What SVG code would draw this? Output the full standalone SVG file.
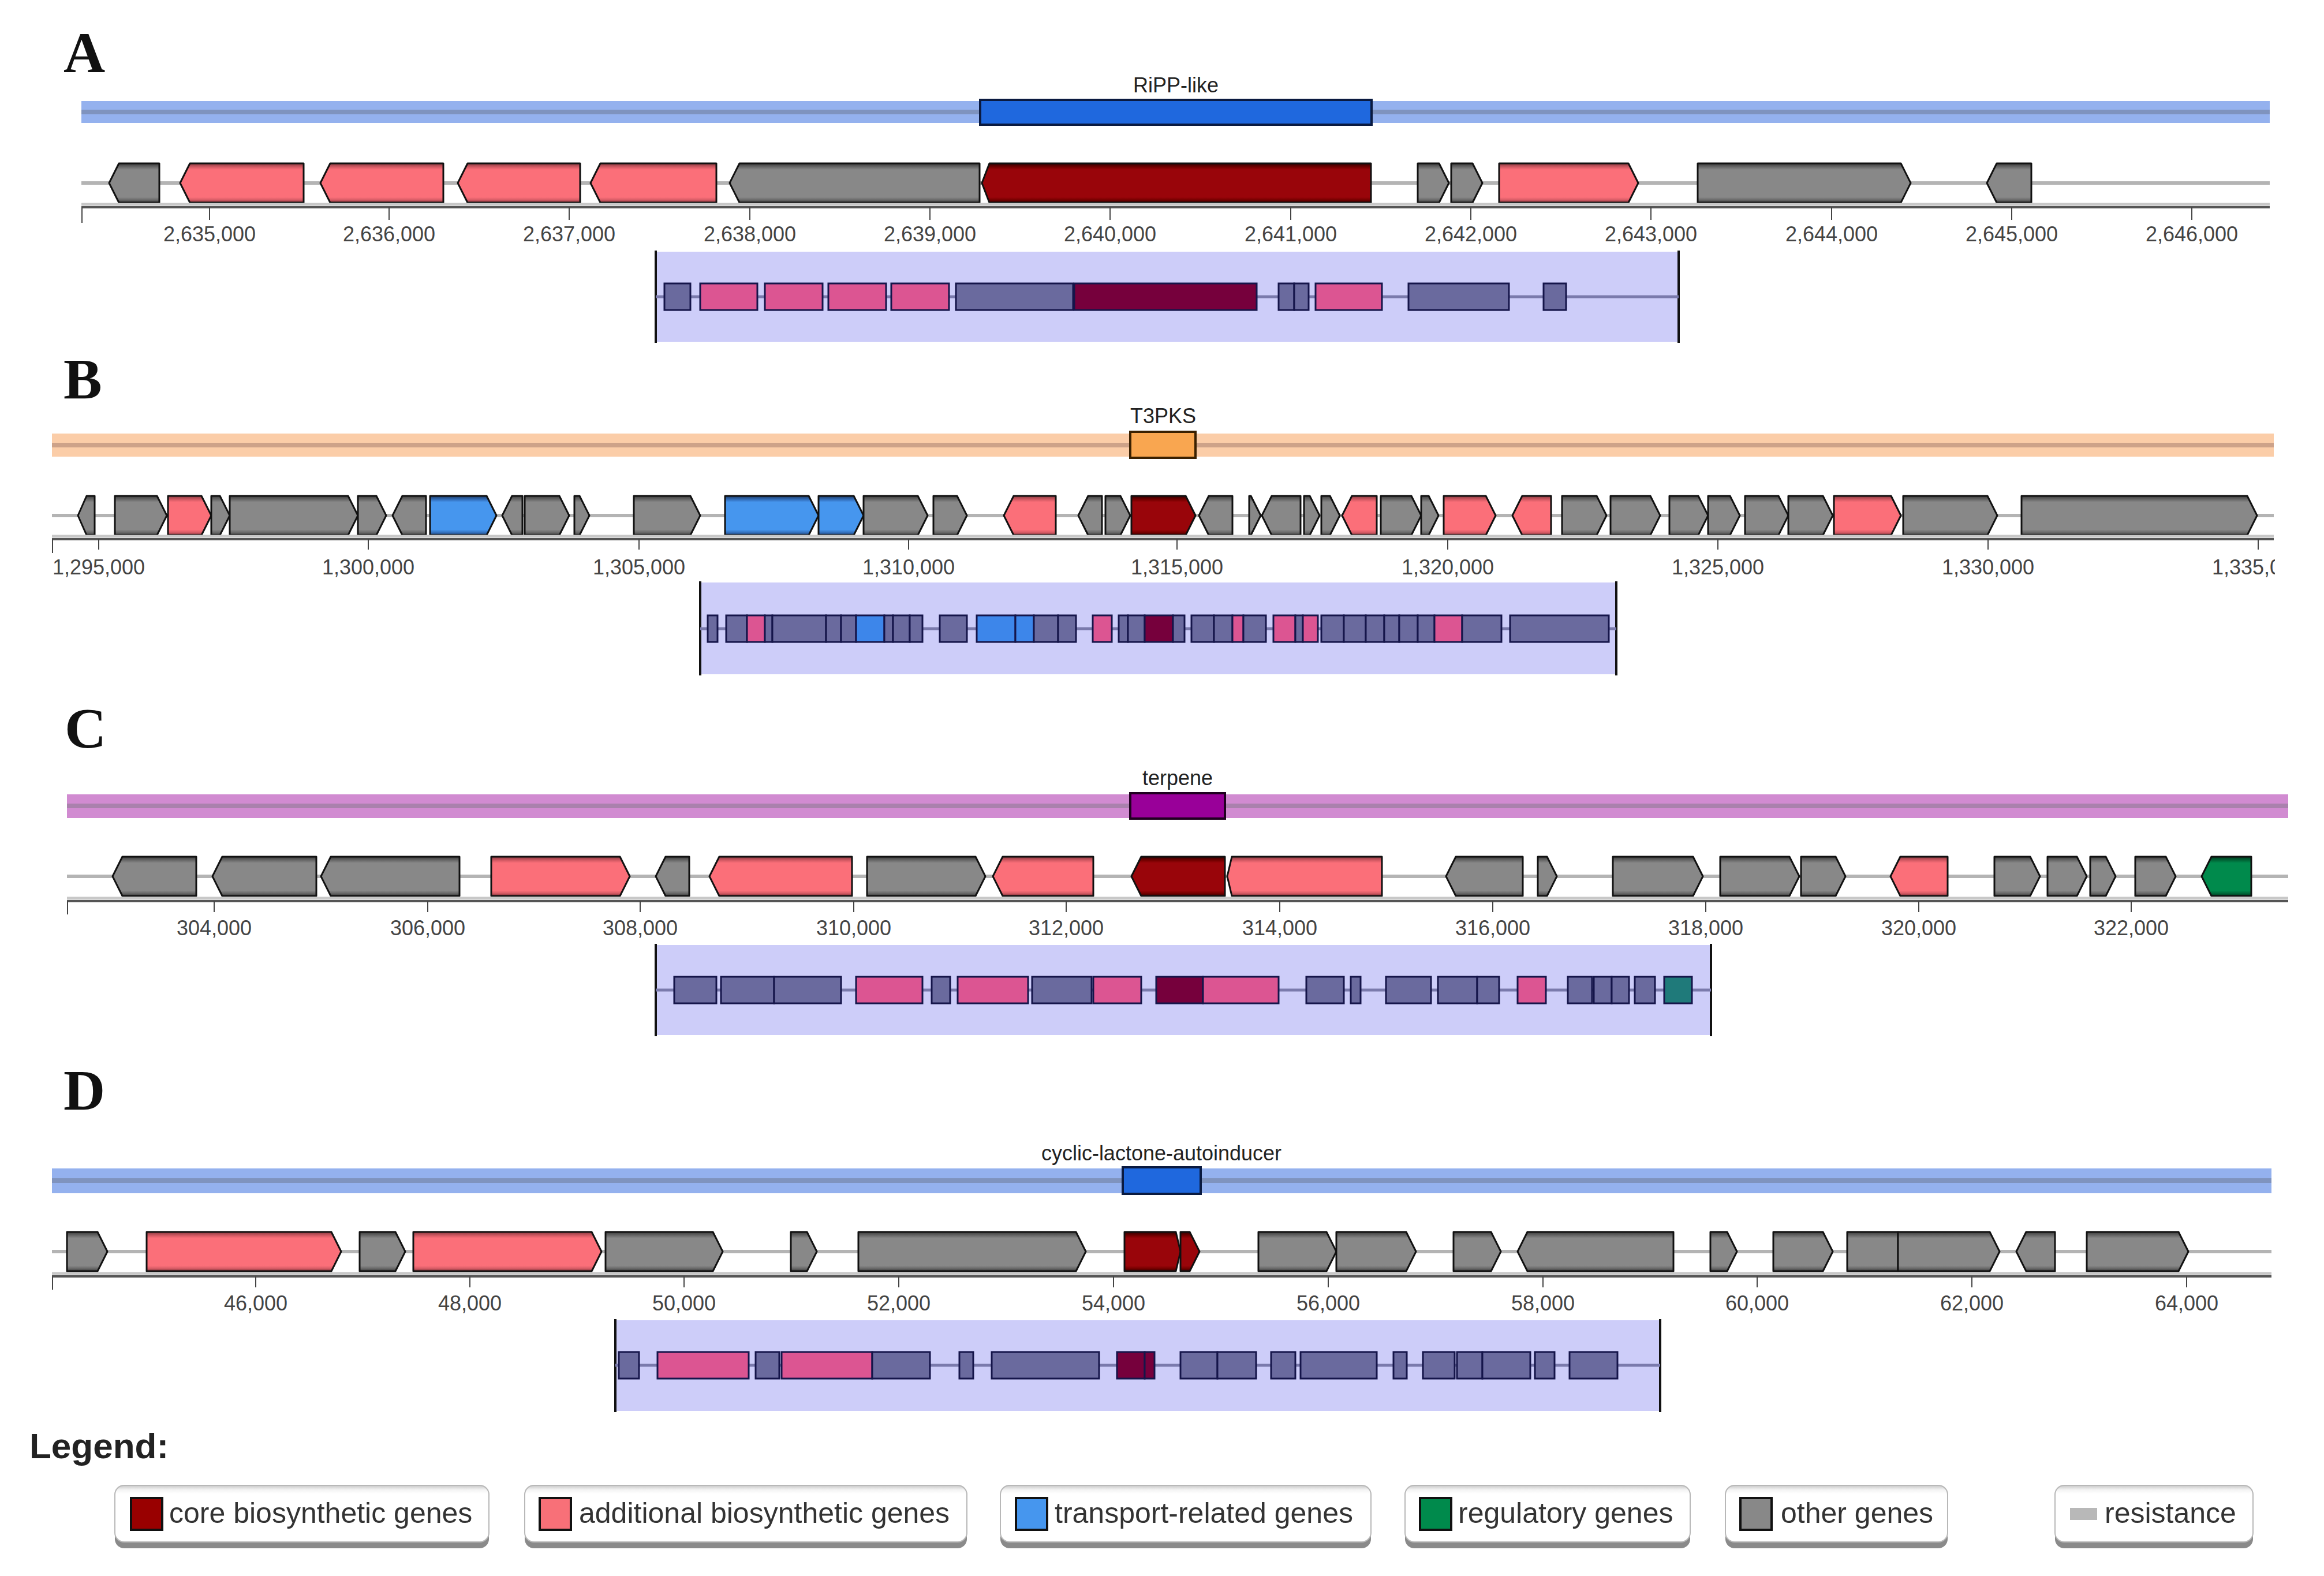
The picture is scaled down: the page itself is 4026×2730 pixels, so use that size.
<svg xmlns="http://www.w3.org/2000/svg" width="4026" height="2730" viewBox="0 0 4026 2730">
<defs>
<linearGradient id="gGray" x1="0" y1="0" x2="0" y2="1"><stop offset="0" stop-color="#3c3c3c"/><stop offset="0.1" stop-color="#6c6c6c"/><stop offset="0.16" stop-color="#888"/><stop offset="0.86" stop-color="#888"/><stop offset="0.93" stop-color="#6a6a6a"/><stop offset="1" stop-color="#3a3a3a"/></linearGradient>
<linearGradient id="gPink" x1="0" y1="0" x2="0" y2="1"><stop offset="0" stop-color="#8a3a40"/><stop offset="0.1" stop-color="#d85c66"/><stop offset="0.16" stop-color="#fb6f79"/><stop offset="0.86" stop-color="#fb6f79"/><stop offset="0.93" stop-color="#d85c66"/><stop offset="1" stop-color="#7a3036"/></linearGradient>
<linearGradient id="gCore" x1="0" y1="0" x2="0" y2="1"><stop offset="0" stop-color="#300"/><stop offset="0.1" stop-color="#700"/><stop offset="0.16" stop-color="#99050a"/><stop offset="0.86" stop-color="#99050a"/><stop offset="0.93" stop-color="#700"/><stop offset="1" stop-color="#300"/></linearGradient>
<linearGradient id="gBlue" x1="0" y1="0" x2="0" y2="1"><stop offset="0" stop-color="#1a3a66"/><stop offset="0.1" stop-color="#3572c0"/><stop offset="0.16" stop-color="#4696ee"/><stop offset="0.86" stop-color="#4696ee"/><stop offset="0.93" stop-color="#3572c0"/><stop offset="1" stop-color="#1a3a66"/></linearGradient>
<linearGradient id="gGreen" x1="0" y1="0" x2="0" y2="1"><stop offset="0" stop-color="#003a1e"/><stop offset="0.1" stop-color="#006a3a"/><stop offset="0.16" stop-color="#008a4c"/><stop offset="0.86" stop-color="#008a4c"/><stop offset="0.93" stop-color="#006a3a"/><stop offset="1" stop-color="#003a1e"/></linearGradient>
<linearGradient id="btn" x1="0" y1="0" x2="0" y2="1"><stop offset="0" stop-color="#c8c8c8"/><stop offset="0.08" stop-color="#f4f4f4"/><stop offset="0.15" stop-color="#fff"/><stop offset="1" stop-color="#fff"/></linearGradient>
<clipPath id="clipB"><rect x="88" y="950" width="3853" height="60"/></clipPath>
<style>
.gg{fill:url(#gGray);stroke:#111;stroke-width:3;stroke-linejoin:round}
.gp{fill:url(#gPink);stroke:#111;stroke-width:3;stroke-linejoin:round}
.gr{fill:url(#gCore);stroke:#111;stroke-width:3;stroke-linejoin:round}
.gb{fill:url(#gBlue);stroke:#111;stroke-width:3;stroke-linejoin:round}
.gn{fill:url(#gGreen);stroke:#111;stroke-width:3;stroke-linejoin:round}
.mg,.mp,.mr,.mb,.mt{stroke:#15154a;stroke-width:3;height:46px}
.mg{fill:#6a6a9e}.mp{fill:#dc5592}.mr{fill:#76003c}.mb{fill:#3d86ea}.mt{fill:#1f7a7a}
.trk{stroke:#b4b4b4;stroke-width:6}
.axb{stroke:#c8c8c8;stroke-width:5}
.ax{stroke:#555;stroke-width:4}
.tk{stroke:#444;stroke-width:2}
.tl{font-family:"Liberation Sans",Arial,sans-serif;font-size:36px;fill:#444;text-anchor:middle}
.rl{font-family:"Liberation Sans",Arial,sans-serif;font-size:36px;fill:#222;text-anchor:middle}
.pl{font-family:"Liberation Serif","Times New Roman",serif;font-weight:bold;font-size:100px;fill:#111}
.lav{fill:#cdcdf9}
.lavl{stroke:#111;stroke-width:4}
.mtrk{stroke:#7a7aac;stroke-width:5}
.stripe{opacity:0.55}
.lgb{fill:url(#btn);stroke:#b8b8b8;stroke-width:2}
.lgs{fill:#8a8a8a}
.lgt{font-family:"Liberation Sans",Arial,sans-serif;font-size:50px;fill:#333}
.sw{stroke:#111;stroke-width:4}
</style>
</defs>
<rect width="4026" height="2730" fill="#fff"/>

<!-- ================= PANEL A ================= -->
<g id="panelA">
<text class="pl" x="110" y="125">A</text>
<g id="regionA">
<rect x="141" y="175" width="3791" height="38" fill="#94b1ee"/>
<rect class="stripe" x="141" y="190" width="3791" height="8" fill="#6d7a98"/>
<rect x="1698" y="173" width="678" height="43" fill="#1f68de" stroke="#0a1a40" stroke-width="4"/>
<text class="rl" x="2037" y="160">RiPP-like</text>
</g>
<line class="trk" x1="141" y1="317" x2="3932" y2="317"/>
<g id="genesA" transform="translate(0,283)">
<polygon class="gg" points="189,34 206,0 276,0 276,68 206,68"/>
<polygon class="gp" points="312,34 329,0 526,0 526,68 329,68"/>
<polygon class="gp" points="555,34 572,0 768,0 768,68 572,68"/>
<polygon class="gp" points="793,34 810,0 1005,0 1005,68 810,68"/>
<polygon class="gp" points="1023,34 1040,0 1241,0 1241,68 1040,68"/>
<polygon class="gg" points="1264,34 1281,0 1697,0 1697,68 1281,68"/>
<polygon class="gr" points="1701,34 1714,0 2375,0 2375,68 1714,68"/>
<polygon class="gg" points="2456,0 2493,0 2510,34 2493,68 2456,68"/>
<polygon class="gg" points="2514,0 2551,0 2568,34 2551,68 2514,68"/>
<polygon class="gp" points="2597,0 2821,0 2838,34 2821,68 2597,68"/>
<polygon class="gg" points="2941,0 3293,0 3310,34 3293,68 2941,68"/>
<polygon class="gg" points="3442,34 3459,0 3519,0 3519,68 3459,68"/>
</g>
<g id="axisA">
<line class="axb" x1="141" y1="354" x2="3932" y2="354"/>
<line class="ax" x1="141" y1="359" x2="3932" y2="359"/>
<line class="tk" x1="142" y1="359" x2="142" y2="386"/>
<g class="tk">
<line x1="363" y1="359" x2="363" y2="381"/><line x1="674" y1="359" x2="674" y2="381"/><line x1="986" y1="359" x2="986" y2="381"/><line x1="1299" y1="359" x2="1299" y2="381"/><line x1="1611" y1="359" x2="1611" y2="381"/><line x1="1923" y1="359" x2="1923" y2="381"/><line x1="2236" y1="359" x2="2236" y2="381"/><line x1="2548" y1="359" x2="2548" y2="381"/><line x1="2860" y1="359" x2="2860" y2="381"/><line x1="3173" y1="359" x2="3173" y2="381"/><line x1="3485" y1="359" x2="3485" y2="381"/><line x1="3797" y1="359" x2="3797" y2="381"/>
</g>
<text class="tl" x="363" y="418">2,635,000</text><text class="tl" x="674" y="418">2,636,000</text><text class="tl" x="986" y="418">2,637,000</text><text class="tl" x="1299" y="418">2,638,000</text><text class="tl" x="1611" y="418">2,639,000</text><text class="tl" x="1923" y="418">2,640,000</text><text class="tl" x="2236" y="418">2,641,000</text><text class="tl" x="2548" y="418">2,642,000</text><text class="tl" x="2860" y="418">2,643,000</text><text class="tl" x="3173" y="418">2,644,000</text><text class="tl" x="3485" y="418">2,645,000</text><text class="tl" x="3797" y="418">2,646,000</text>
</g>
<g id="miniA">
<rect class="lav" x="1136" y="436" width="1772" height="156"/>
<line class="lavl" x1="1136" y1="434" x2="1136" y2="594"/>
<line class="lavl" x1="2908" y1="434" x2="2908" y2="594"/>
<line class="mtrk" x1="1136" y1="514" x2="2908" y2="514"/>
<g transform="translate(0,491)">
<rect class="mg" x="1151" y="0" width="45" height="46"/><rect class="mp" x="1213" y="0" width="99" height="46"/><rect class="mp" x="1325" y="0" width="100" height="46"/><rect class="mp" x="1435" y="0" width="100" height="46"/><rect class="mp" x="1544" y="0" width="100" height="46"/><rect class="mg" x="1656" y="0" width="203" height="46"/><rect class="mr" x="1861" y="0" width="316" height="46"/><rect class="mg" x="2215" y="0" width="27" height="46"/><rect class="mg" x="2242" y="0" width="25" height="46"/><rect class="mp" x="2279" y="0" width="115" height="46"/><rect class="mg" x="2440" y="0" width="174" height="46"/><rect class="mg" x="2674" y="0" width="39" height="46"/>
</g>
</g>
</g>

<!-- ================= PANEL B ================= -->
<g id="panelB">
<text class="pl" x="110" y="690">B</text>
<g id="regionB">
<rect x="90" y="751" width="3849" height="40" fill="#fbcda8"/>
<rect class="stripe" x="90" y="767" width="3849" height="8" fill="#a88070"/>
<rect x="1958" y="748" width="113" height="45" fill="#f9a650" stroke="#3a2000" stroke-width="4"/>
<text class="rl" x="2015" y="733">T3PKS</text>
</g>
<line class="trk" x1="90" y1="893" x2="3939" y2="893"/>
<g id="genesB" transform="translate(0,859)">
<polygon class="gg" points="135,34 150,0 164,0 164,68 150,68"/>
<polygon class="gg" points="199,0 272,0 289,34 272,68 199,68"/>
<polygon class="gp" points="291,0 349,0 366,34 349,68 291,68"/>
<polygon class="gg" points="366,0 381,0 398,34 381,68 366,68"/>
<polygon class="gg" points="398,0 603,0 620,34 603,68 398,68"/>
<polygon class="gg" points="620,0 652,0 669,34 652,68 620,68"/>
<polygon class="gg" points="680,34 697,0 738,0 738,68 697,68"/>
<polygon class="gb" points="745,0 843,0 860,34 843,68 745,68"/>
<polygon class="gg" points="870,34 887,0 905,0 905,68 887,68"/>
<polygon class="gg" points="909,0 969,0 986,34 969,68 909,68"/>
<polygon class="gg" points="995,0 1004,0 1021,34 1004,68 995,68"/>
<polygon class="gg" points="1098,0 1196,0 1213,34 1196,68 1098,68"/>
<polygon class="gb" points="1256,0 1401,0 1418,34 1401,68 1256,68"/>
<polygon class="gb" points="1418,0 1479,0 1496,34 1479,68 1418,68"/>
<polygon class="gg" points="1496,0 1590,0 1607,34 1590,68 1496,68"/>
<polygon class="gg" points="1617,0 1658,0 1675,34 1658,68 1617,68"/>
<polygon class="gp" points="1739,34 1756,0 1829,0 1829,68 1756,68"/>
<polygon class="gg" points="1868,34 1885,0 1909,0 1909,68 1885,68"/>
<polygon class="gg" points="1915,0 1941,0 1958,34 1941,68 1915,68"/>
<polygon class="gr" points="1960,0 2054,0 2071,34 2054,68 1960,68"/>
<polygon class="gg" points="2077,34 2094,0 2135,0 2135,68 2094,68"/>
<polygon class="gg" points="2164,0 2167,0 2184,34 2167,68 2164,68"/>
<polygon class="gg" points="2186,34 2203,0 2253,0 2253,68 2203,68"/>
<polygon class="gg" points="2259,0 2269,0 2286,34 2269,68 2259,68"/>
<polygon class="gg" points="2289,0 2304,0 2321,34 2304,68 2289,68"/>
<polygon class="gp" points="2325,34 2342,0 2385,0 2385,68 2342,68"/>
<polygon class="gg" points="2392,0 2445,0 2462,34 2445,68 2392,68"/>
<polygon class="gg" points="2462,0 2475,0 2492,34 2475,68 2462,68"/>
<polygon class="gp" points="2501,0 2574,0 2591,34 2574,68 2501,68"/>
<polygon class="gp" points="2620,34 2637,0 2687,0 2687,68 2637,68"/>
<polygon class="gg" points="2706,0 2766,0 2783,34 2766,68 2706,68"/>
<polygon class="gg" points="2790,0 2859,0 2876,34 2859,68 2790,68"/>
<polygon class="gg" points="2892,0 2942,0 2959,34 2942,68 2892,68"/>
<polygon class="gg" points="2959,0 2997,0 3014,34 2997,68 2959,68"/>
<polygon class="gg" points="3023,0 3081,0 3098,34 3081,68 3023,68"/>
<polygon class="gg" points="3098,0 3158,0 3175,34 3158,68 3098,68"/>
<polygon class="gp" points="3177,0 3276,0 3293,34 3276,68 3177,68"/>
<polygon class="gg" points="3297,0 3443,0 3460,34 3443,68 3297,68"/>
<polygon class="gg" points="3502,0 3893,0 3910,34 3893,68 3502,68"/>
</g>
<g id="axisB">
<line class="axb" x1="90" y1="929" x2="3939" y2="929"/>
<line class="ax" x1="90" y1="934" x2="3939" y2="934"/>
<line class="tk" x1="91" y1="934" x2="91" y2="958"/>
<g class="tk">
<line x1="171" y1="934" x2="171" y2="952"/><line x1="638" y1="934" x2="638" y2="952"/><line x1="1107" y1="934" x2="1107" y2="952"/><line x1="1574" y1="934" x2="1574" y2="952"/><line x1="2039" y1="934" x2="2039" y2="952"/><line x1="2508" y1="934" x2="2508" y2="952"/><line x1="2976" y1="934" x2="2976" y2="952"/><line x1="3444" y1="934" x2="3444" y2="952"/><line x1="3912" y1="934" x2="3912" y2="952"/>
</g>
<g clip-path="url(#clipB)">
<text class="tl" x="171" y="995">1,295,000</text><text class="tl" x="638" y="995">1,300,000</text><text class="tl" x="1107" y="995">1,305,000</text><text class="tl" x="1574" y="995">1,310,000</text><text class="tl" x="2039" y="995">1,315,000</text><text class="tl" x="2508" y="995">1,320,000</text><text class="tl" x="2976" y="995">1,325,000</text><text class="tl" x="3444" y="995">1,330,000</text><text class="tl" x="3912" y="995">1,335,000</text>
</g>
</g>
<g id="miniB">
<rect class="lav" x="1213" y="1009" width="1587" height="159"/>
<line class="lavl" x1="1213" y1="1007" x2="1213" y2="1170"/>
<line class="lavl" x1="2800" y1="1007" x2="2800" y2="1170"/>
<line class="mtrk" x1="1213" y1="1089" x2="2800" y2="1089"/>
<g transform="translate(0,1066)">
<rect class="mg" x="1226" y="0" width="17" height="46"/><rect class="mg" x="1258" y="0" width="36" height="46"/><rect class="mp" x="1294" y="0" width="31" height="46"/><rect class="mg" x="1325" y="0" width="13" height="46"/><rect class="mg" x="1338" y="0" width="93" height="46"/><rect class="mg" x="1431" y="0" width="26" height="46"/><rect class="mg" x="1457" y="0" width="26" height="46"/><rect class="mb" x="1483" y="0" width="49" height="46"/><rect class="mg" x="1532" y="0" width="15" height="46"/><rect class="mg" x="1547" y="0" width="29" height="46"/><rect class="mg" x="1576" y="0" width="22" height="46"/><rect class="mg" x="1628" y="0" width="47" height="46"/><rect class="mb" x="1692" y="0" width="67" height="46"/><rect class="mb" x="1759" y="0" width="32" height="46"/><rect class="mg" x="1791" y="0" width="42" height="46"/><rect class="mg" x="1833" y="0" width="31" height="46"/><rect class="mp" x="1893" y="0" width="33" height="46"/><rect class="mg" x="1938" y="0" width="16" height="46"/><rect class="mg" x="1954" y="0" width="29" height="46"/><rect class="mr" x="1983" y="0" width="49" height="46"/><rect class="mg" x="2032" y="0" width="20" height="46"/><rect class="mg" x="2064" y="0" width="39" height="46"/><rect class="mg" x="2103" y="0" width="32" height="46"/><rect class="mp" x="2135" y="0" width="19" height="46"/><rect class="mg" x="2154" y="0" width="39" height="46"/><rect class="mp" x="2206" y="0" width="38" height="46"/><rect class="mg" x="2244" y="0" width="13" height="46"/><rect class="mp" x="2257" y="0" width="26" height="46"/><rect class="mg" x="2289" y="0" width="39" height="46"/><rect class="mg" x="2328" y="0" width="38" height="46"/><rect class="mg" x="2366" y="0" width="32" height="46"/><rect class="mg" x="2398" y="0" width="26" height="46"/><rect class="mg" x="2424" y="0" width="32" height="46"/><rect class="mg" x="2456" y="0" width="29" height="46"/><rect class="mp" x="2485" y="0" width="48" height="46"/><rect class="mg" x="2533" y="0" width="68" height="46"/><rect class="mg" x="2616" y="0" width="171" height="46"/>
</g>
</g>
</g>

<!-- ================= PANEL C ================= -->
<g id="panelC">
<text class="pl" x="112" y="1295">C</text>
<g id="regionC">
<rect x="116" y="1376" width="3848" height="41" fill="#d18bd1"/>
<rect class="stripe" x="116" y="1392" width="3848" height="8" fill="#8a7a90"/>
<rect x="1958" y="1374" width="164" height="44" fill="#990099" stroke="#200020" stroke-width="4"/>
<text class="rl" x="2040" y="1360">terpene</text>
</g>
<line class="trk" x1="116" y1="1518" x2="3964" y2="1518"/>
<g id="genesC" transform="translate(0,1484)">
<polygon class="gg" points="195,34 212,0 340,0 340,68 212,68"/>
<polygon class="gg" points="368,34 385,0 548,0 548,68 385,68"/>
<polygon class="gg" points="556,34 573,0 796,0 796,68 573,68"/>
<polygon class="gp" points="851,0 1074,0 1091,34 1074,68 851,68"/>
<polygon class="gg" points="1136,34 1153,0 1194,0 1194,68 1153,68"/>
<polygon class="gp" points="1229,34 1246,0 1476,0 1476,68 1246,68"/>
<polygon class="gg" points="1502,0 1690,0 1707,34 1690,68 1502,68"/>
<polygon class="gp" points="1720,34 1737,0 1894,0 1894,68 1737,68"/>
<polygon class="gr" points="1960,34 1977,0 2122,0 2122,68 1977,68"/>
<polygon class="gp" points="2126,34 2134,0 2394,0 2394,68 2134,68"/>
<polygon class="gg" points="2505,34 2522,0 2638,0 2638,68 2522,68"/>
<polygon class="gg" points="2664,0 2680,0 2697,34 2680,68 2664,68"/>
<polygon class="gg" points="2794,0 2933,0 2950,34 2933,68 2794,68"/>
<polygon class="gg" points="2980,0 3100,0 3117,34 3100,68 2980,68"/>
<polygon class="gg" points="3120,0 3180,0 3197,34 3180,68 3120,68"/>
<polygon class="gp" points="3275,34 3292,0 3374,0 3374,68 3292,68"/>
<polygon class="gg" points="3455,0 3517,0 3534,34 3517,68 3455,68"/>
<polygon class="gg" points="3547,0 3598,0 3615,34 3598,68 3547,68"/>
<polygon class="gg" points="3621,0 3648,0 3665,34 3648,68 3621,68"/>
<polygon class="gg" points="3699,0 3752,0 3769,34 3752,68 3699,68"/>
<polygon class="gn" points="3814,34 3831,0 3900,0 3900,68 3831,68"/>
</g>
<g id="axisC">
<line class="axb" x1="116" y1="1556" x2="3964" y2="1556"/>
<line class="ax" x1="116" y1="1561" x2="3964" y2="1561"/>
<line class="tk" x1="117" y1="1561" x2="117" y2="1584"/>
<g class="tk">
<line x1="371" y1="1561" x2="371" y2="1580"/><line x1="741" y1="1561" x2="741" y2="1580"/><line x1="1109" y1="1561" x2="1109" y2="1580"/><line x1="1479" y1="1561" x2="1479" y2="1580"/><line x1="1847" y1="1561" x2="1847" y2="1580"/><line x1="2217" y1="1561" x2="2217" y2="1580"/><line x1="2586" y1="1561" x2="2586" y2="1580"/><line x1="2955" y1="1561" x2="2955" y2="1580"/><line x1="3324" y1="1561" x2="3324" y2="1580"/><line x1="3692" y1="1561" x2="3692" y2="1580"/>
</g>
<text class="tl" x="371" y="1620">304,000</text><text class="tl" x="741" y="1620">306,000</text><text class="tl" x="1109" y="1620">308,000</text><text class="tl" x="1479" y="1620">310,000</text><text class="tl" x="1847" y="1620">312,000</text><text class="tl" x="2217" y="1620">314,000</text><text class="tl" x="2586" y="1620">316,000</text><text class="tl" x="2955" y="1620">318,000</text><text class="tl" x="3324" y="1620">320,000</text><text class="tl" x="3692" y="1620">322,000</text>
</g>
<g id="miniC">
<rect class="lav" x="1136" y="1637" width="1828" height="156"/>
<line class="lavl" x1="1136" y1="1635" x2="1136" y2="1795"/>
<line class="lavl" x1="2964" y1="1635" x2="2964" y2="1795"/>
<line class="mtrk" x1="1136" y1="1715" x2="2964" y2="1715"/>
<g transform="translate(0,1692)">
<rect class="mg" x="1168" y="0" width="73" height="46"/><rect class="mg" x="1249" y="0" width="92" height="46"/><rect class="mg" x="1341" y="0" width="116" height="46"/><rect class="mp" x="1483" y="0" width="115" height="46"/><rect class="mg" x="1614" y="0" width="32" height="46"/><rect class="mp" x="1659" y="0" width="122" height="46"/><rect class="mg" x="1788" y="0" width="103" height="46"/><rect class="mp" x="1894" y="0" width="83" height="46"/><rect class="mr" x="2003" y="0" width="81" height="46"/><rect class="mp" x="2084" y="0" width="131" height="46"/><rect class="mg" x="2263" y="0" width="65" height="46"/><rect class="mg" x="2340" y="0" width="17" height="46"/><rect class="mg" x="2401" y="0" width="78" height="46"/><rect class="mg" x="2491" y="0" width="68" height="46"/><rect class="mg" x="2559" y="0" width="38" height="46"/><rect class="mp" x="2629" y="0" width="49" height="46"/><rect class="mg" x="2716" y="0" width="42" height="46"/><rect class="mg" x="2761" y="0" width="31" height="46"/><rect class="mg" x="2792" y="0" width="30" height="46"/><rect class="mg" x="2832" y="0" width="35" height="46"/><rect class="mt" x="2883" y="0" width="48" height="46"/>
</g>
</g>
</g>

<!-- ================= PANEL D ================= -->
<g id="panelD">
<text class="pl" x="110" y="1922">D</text>
<g id="regionD">
<rect x="90" y="2024" width="3845" height="43" fill="#94b1ee"/>
<rect class="stripe" x="90" y="2041" width="3845" height="8" fill="#6d7a98"/>
<rect x="1945" y="2022" width="135" height="46" fill="#1f68de" stroke="#0a1a40" stroke-width="4"/>
<text class="rl" x="2012" y="2010">cyclic-lactone-autoinducer</text>
</g>
<line class="trk" x1="90" y1="2168" x2="3935" y2="2168"/>
<g id="genesD" transform="translate(0,2134)">
<polygon class="gg" points="116,0 169,0 186,34 169,68 116,68"/>
<polygon class="gp" points="254,0 574,0 591,34 574,68 254,68"/>
<polygon class="gg" points="623,0 685,0 702,34 685,68 623,68"/>
<polygon class="gp" points="716,0 1025,0 1042,34 1025,68 716,68"/>
<polygon class="gg" points="1049,0 1235,0 1252,34 1235,68 1049,68"/>
<polygon class="gg" points="1370,0 1398,0 1415,34 1398,68 1370,68"/>
<polygon class="gg" points="1487,0 1864,0 1881,34 1864,68 1487,68"/>
<polygon class="gr" points="1948,0 2037,0 2045,34 2037,68 1948,68"/>
<polygon class="gr" points="2045,0 2061,0 2078,34 2061,68 2045,68"/>
<polygon class="gg" points="2180,0 2298,0 2315,34 2298,68 2180,68"/>
<polygon class="gg" points="2315,0 2436,0 2453,34 2436,68 2315,68"/>
<polygon class="gg" points="2518,0 2583,0 2600,34 2583,68 2518,68"/>
<polygon class="gg" points="2629,34 2646,0 2899,0 2899,68 2646,68"/>
<polygon class="gg" points="2963,0 2992,0 3009,34 2992,68 2963,68"/>
<polygon class="gg" points="3072,0 3158,0 3175,34 3158,68 3072,68"/>
<polygon class="gg" points="3200,0 3288,0 3288,68 3200,68"/>
<polygon class="gg" points="3288,0 3447,0 3464,34 3447,68 3288,68"/>
<polygon class="gg" points="3493,34 3510,0 3560,0 3560,68 3510,68"/>
<polygon class="gg" points="3615,0 3774,0 3791,34 3774,68 3615,68"/>
</g>
<g id="axisD">
<line class="axb" x1="90" y1="2206" x2="3935" y2="2206"/>
<line class="ax" x1="90" y1="2211" x2="3935" y2="2211"/>
<line class="tk" x1="91" y1="2211" x2="91" y2="2234"/>
<g class="tk">
<line x1="443" y1="2211" x2="443" y2="2230"/><line x1="814" y1="2211" x2="814" y2="2230"/><line x1="1185" y1="2211" x2="1185" y2="2230"/><line x1="1557" y1="2211" x2="1557" y2="2230"/><line x1="1929" y1="2211" x2="1929" y2="2230"/><line x1="2301" y1="2211" x2="2301" y2="2230"/><line x1="2673" y1="2211" x2="2673" y2="2230"/><line x1="3044" y1="2211" x2="3044" y2="2230"/><line x1="3416" y1="2211" x2="3416" y2="2230"/><line x1="3788" y1="2211" x2="3788" y2="2230"/>
</g>
<text class="tl" x="443" y="2270">46,000</text><text class="tl" x="814" y="2270">48,000</text><text class="tl" x="1185" y="2270">50,000</text><text class="tl" x="1557" y="2270">52,000</text><text class="tl" x="1929" y="2270">54,000</text><text class="tl" x="2301" y="2270">56,000</text><text class="tl" x="2673" y="2270">58,000</text><text class="tl" x="3044" y="2270">60,000</text><text class="tl" x="3416" y="2270">62,000</text><text class="tl" x="3788" y="2270">64,000</text>
</g>
<g id="miniD">
<rect class="lav" x="1066" y="2287" width="1810" height="157"/>
<line class="lavl" x1="1066" y1="2285" x2="1066" y2="2446"/>
<line class="lavl" x1="2876" y1="2285" x2="2876" y2="2446"/>
<line class="mtrk" x1="1066" y1="2365" x2="2876" y2="2365"/>
<g transform="translate(0,2342)">
<rect class="mg" x="1072" y="0" width="35" height="46"/><rect class="mp" x="1139" y="0" width="158" height="46"/><rect class="mg" x="1309" y="0" width="41" height="46"/><rect class="mp" x="1354" y="0" width="157" height="46"/><rect class="mg" x="1511" y="0" width="100" height="46"/><rect class="mg" x="1662" y="0" width="24" height="46"/><rect class="mg" x="1718" y="0" width="186" height="46"/><rect class="mr" x="1935" y="0" width="48" height="46"/><rect class="mr" x="1983" y="0" width="17" height="46"/><rect class="mg" x="2045" y="0" width="64" height="46"/><rect class="mg" x="2109" y="0" width="67" height="46"/><rect class="mg" x="2202" y="0" width="42" height="46"/><rect class="mg" x="2253" y="0" width="132" height="46"/><rect class="mg" x="2414" y="0" width="23" height="46"/><rect class="mg" x="2465" y="0" width="55" height="46"/><rect class="mg" x="2524" y="0" width="44" height="46"/><rect class="mg" x="2568" y="0" width="83" height="46"/><rect class="mg" x="2659" y="0" width="34" height="46"/><rect class="mg" x="2719" y="0" width="83" height="46"/>
</g>
</g>
</g>

<!-- ================= LEGEND ================= -->
<g id="legend">
<text x="51" y="2526" font-family="'Liberation Sans',Arial,sans-serif" font-weight="bold" font-size="62" fill="#222">Legend:</text>
<g id="lg-core">
<rect class="lgs" x="199" y="2573" width="648" height="109" rx="16"/>
<rect class="lgb" x="199" y="2573" width="648" height="98" rx="16"/>
<rect class="sw" x="227" y="2595" width="54" height="55" fill="#990000"/>
<text class="lgt" x="293" y="2638">core biosynthetic genes</text>
</g>
<g id="lg-add">
<rect class="lgs" x="909" y="2573" width="766" height="109" rx="16"/>
<rect class="lgb" x="909" y="2573" width="766" height="98" rx="16"/>
<rect class="sw" x="935" y="2595" width="54" height="55" fill="#f87078"/>
<text class="lgt" x="1003" y="2638">additional biosynthetic genes</text>
</g>
<g id="lg-trans">
<rect class="lgs" x="1733" y="2573" width="642" height="109" rx="16"/>
<rect class="lgb" x="1733" y="2573" width="642" height="98" rx="16"/>
<rect class="sw" x="1760" y="2595" width="54" height="55" fill="#4696ee"/>
<text class="lgt" x="1827" y="2638">transport-related genes</text>
</g>
<g id="lg-reg">
<rect class="lgs" x="2434" y="2573" width="494" height="109" rx="16"/>
<rect class="lgb" x="2434" y="2573" width="494" height="98" rx="16"/>
<rect class="sw" x="2460" y="2595" width="54" height="55" fill="#008a4c"/>
<text class="lgt" x="2526" y="2638">regulatory genes</text>
</g>
<g id="lg-other">
<rect class="lgs" x="2989" y="2573" width="385" height="109" rx="16"/>
<rect class="lgb" x="2989" y="2573" width="385" height="98" rx="16"/>
<rect class="sw" x="3015" y="2595" width="54" height="55" fill="#888"/>
<text class="lgt" x="3085" y="2638">other genes</text>
</g>
<g id="lg-res">
<rect class="lgs" x="3560" y="2573" width="343" height="109" rx="16"/>
<rect class="lgb" x="3560" y="2573" width="343" height="98" rx="16"/>
<rect x="3586" y="2612" width="47" height="21" fill="#b8b8b8"/>
<text class="lgt" x="3646" y="2638">resistance</text>
</g>
</g>
</svg>
